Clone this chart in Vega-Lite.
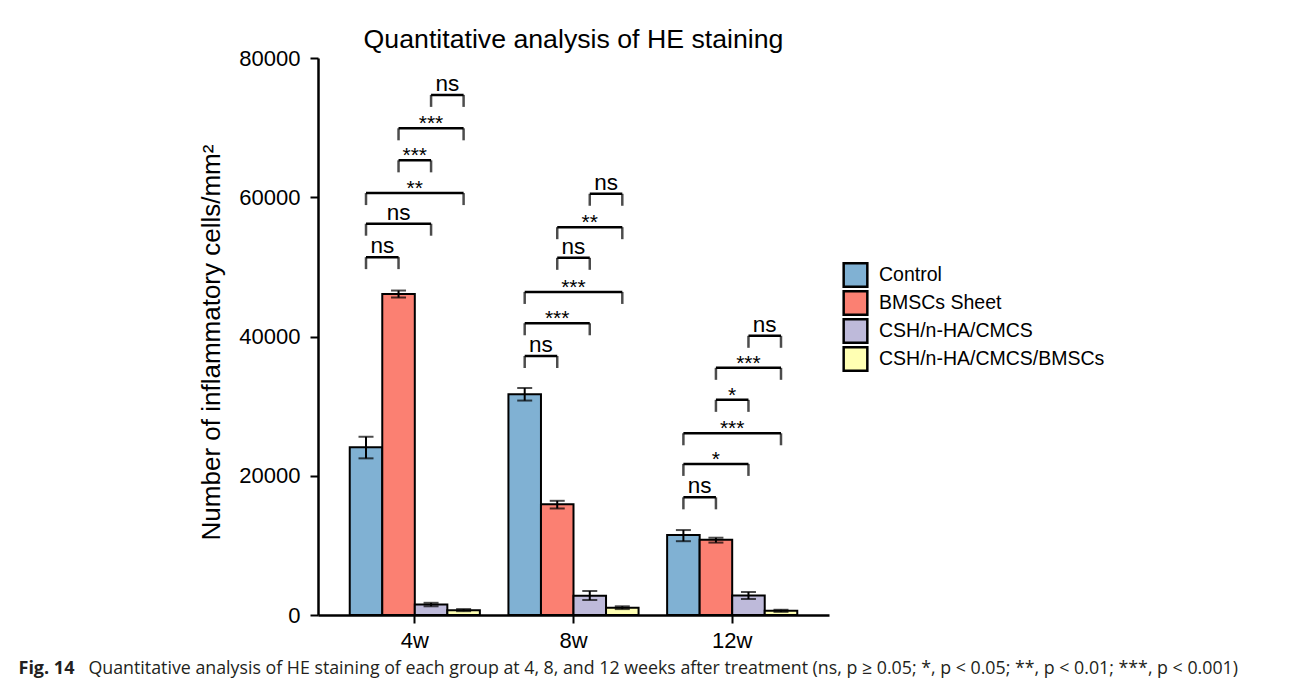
{
  "$schema": "https://vega.github.io/schema/vega-lite/v6.json",
  "autosize": {"type": "none"},
  "padding": {"left": 318, "top": 58, "right": 461, "bottom": 74},
  "width": 511,
  "height": 557,
  "background": "white",
  "title": {"text": "Quantitative analysis of HE staining", "font": "Liberation Sans", "fontSize": 26.7, "fontWeight": "normal", "color": "black", "anchor": "middle", "baseline": "alphabetic", "offset": -28},
  "config": {
    "view": {"stroke": null},
    "font": "Liberation Sans",
    "axis": {"grid": false}
  },
  "datasets": {
    "bars": [
      {"week": "4w", "group": "Control", "mean": 24100, "lo": 22500, "hi": 25600},
      {"week": "4w", "group": "BMSCs Sheet", "mean": 46100, "lo": 45600, "hi": 46600},
      {"week": "4w", "group": "CSH/n-HA/CMCS", "mean": 1500, "lo": 1250, "hi": 1750},
      {"week": "4w", "group": "CSH/n-HA/CMCS/BMSCs", "mean": 700, "lo": 550, "hi": 850},
      {"week": "8w", "group": "Control", "mean": 31700, "lo": 30800, "hi": 32600},
      {"week": "8w", "group": "BMSCs Sheet", "mean": 15900, "lo": 15300, "hi": 16400},
      {"week": "8w", "group": "CSH/n-HA/CMCS", "mean": 2750, "lo": 2150, "hi": 3450},
      {"week": "8w", "group": "CSH/n-HA/CMCS/BMSCs", "mean": 1050, "lo": 850, "hi": 1250},
      {"week": "12w", "group": "Control", "mean": 11500, "lo": 10600, "hi": 12200},
      {"week": "12w", "group": "BMSCs Sheet", "mean": 10800, "lo": 10400, "hi": 11100},
      {"week": "12w", "group": "CSH/n-HA/CMCS", "mean": 2800, "lo": 2300, "hi": 3300},
      {"week": "12w", "group": "CSH/n-HA/CMCS/BMSCs", "mean": 600, "lo": 450, "hi": 750}
    ],
    "brackets": [
      {"week": "4w", "a": "Control", "b": "BMSCs Sheet", "y": 51400, "label": "ns"},
      {"week": "4w", "a": "Control", "b": "CSH/n-HA/CMCS", "y": 56200, "label": "ns"},
      {"week": "4w", "a": "Control", "b": "CSH/n-HA/CMCS/BMSCs", "y": 60600, "label": "**"},
      {"week": "4w", "a": "BMSCs Sheet", "b": "CSH/n-HA/CMCS", "y": 65300, "label": "***"},
      {"week": "4w", "a": "BMSCs Sheet", "b": "CSH/n-HA/CMCS/BMSCs", "y": 69900, "label": "***"},
      {"week": "4w", "a": "CSH/n-HA/CMCS", "b": "CSH/n-HA/CMCS/BMSCs", "y": 74700, "label": "ns"},
      {"week": "8w", "a": "Control", "b": "BMSCs Sheet", "y": 37200, "label": "ns"},
      {"week": "8w", "a": "Control", "b": "CSH/n-HA/CMCS", "y": 41900, "label": "***"},
      {"week": "8w", "a": "Control", "b": "CSH/n-HA/CMCS/BMSCs", "y": 46400, "label": "***"},
      {"week": "8w", "a": "BMSCs Sheet", "b": "CSH/n-HA/CMCS", "y": 51300, "label": "ns"},
      {"week": "8w", "a": "BMSCs Sheet", "b": "CSH/n-HA/CMCS/BMSCs", "y": 55700, "label": "**"},
      {"week": "8w", "a": "CSH/n-HA/CMCS", "b": "CSH/n-HA/CMCS/BMSCs", "y": 60500, "label": "ns"},
      {"week": "12w", "a": "Control", "b": "BMSCs Sheet", "y": 16900, "label": "ns"},
      {"week": "12w", "a": "Control", "b": "CSH/n-HA/CMCS", "y": 21700, "label": "*"},
      {"week": "12w", "a": "Control", "b": "CSH/n-HA/CMCS/BMSCs", "y": 26100, "label": "***"},
      {"week": "12w", "a": "BMSCs Sheet", "b": "CSH/n-HA/CMCS", "y": 30900, "label": "*"},
      {"week": "12w", "a": "BMSCs Sheet", "b": "CSH/n-HA/CMCS/BMSCs", "y": 35500, "label": "***"},
      {"week": "12w", "a": "CSH/n-HA/CMCS", "b": "CSH/n-HA/CMCS/BMSCs", "y": 40100, "label": "ns"}
    ]
  },
  "resolve": {"axis": {"x": "independent"}},
  "layer": [
    {
      "data": {"name": "bars"},
      "mark": {"type": "bar", "stroke": "black", "strokeWidth": 2},
      "encoding": {
        "x": {"field": "week", "type": "nominal", "sort": ["4w", "8w", "12w"],
              "scale": {"paddingInner": 0.18, "paddingOuter": 0.2},
              "axis": {"orient": "bottom", "title": null, "labelAngle": 0, "labelFontSize": 22, "labelColor": "black", "labelPadding": 7, "tickSize": 8, "tickWidth": 2, "tickColor": "black", "domainColor": "black", "domainWidth": 2.5}},
        "xOffset": {"field": "group", "type": "nominal", "scale": {"domain": ["Control", "BMSCs Sheet", "CSH/n-HA/CMCS", "CSH/n-HA/CMCS/BMSCs"], "paddingInner": 0, "paddingOuter": 0}},
        "y": {"field": "mean", "type": "quantitative", "scale": {"domain": [0, 80000]},
              "axis": {"title": "Number of inflammatory cells/mm²", "titleFontSize": 26, "titleFontWeight": "normal", "titleColor": "black", "titlePadding": 14, "titleY": 284, "values": [0, 20000, 40000, 60000, 80000], "format": "d", "labelFontSize": 22, "labelColor": "black", "labelPadding": 10, "tickSize": 8, "tickWidth": 2, "tickColor": "black", "domainColor": "black", "domainWidth": 2.5}},
        "color": {"field": "group", "type": "nominal",
                  "scale": {"domain": ["Control", "BMSCs Sheet", "CSH/n-HA/CMCS", "CSH/n-HA/CMCS/BMSCs"], "range": ["#80b1d3", "#fb8072", "#bebada", "#ffffb3"]},
                  "legend": {"title": null, "orient": "none", "legendX": 524, "legendY": 204, "padding": 0, "symbolType": "square", "symbolSize": 560, "symbolStrokeColor": "black", "symbolStrokeWidth": 2.5, "symbolOpacity": 1, "labelFontSize": 19.5, "labelColor": "black", "labelOffset": 10, "labelLimit": 400, "clipHeight": 26, "rowPadding": 2}}
      }
    },
    {
      "data": {"name": "bars"},
      "mark": {"type": "rule", "color": "black", "strokeWidth": 2},
      "encoding": {
        "x": {"field": "week", "type": "nominal", "sort": ["4w", "8w", "12w"],
              "axis": {"orient": "bottom", "title": "Fig. 14", "labels": false, "ticks": false, "domain": false, "titleFont": "Open Sans", "titleFontSize": 18, "titleFontWeight": "bold", "titleColor": "#231f20", "titleX": -300, "titleY": 53, "titleAlign": "left", "titleAnchor": null, "titleBaseline": "middle"}},
        "xOffset": {"field": "group", "type": "nominal"},
        "y": {"field": "lo", "type": "quantitative"},
        "y2": {"field": "hi"}
      }
    },
    {
      "data": {"name": "bars"},
      "transform": [{"fold": ["lo", "hi"], "as": ["end", "v"]}],
      "mark": {"type": "tick", "color": "black", "orient": "horizontal", "size": 15, "thickness": 2},
      "encoding": {
        "x": {"field": "week", "type": "nominal", "sort": ["4w", "8w", "12w"],
              "axis": {"orient": "bottom", "title": "Quantitative analysis of HE staining of each group at 4, 8, and 12 weeks after treatment (ns, p ≥ 0.05; *, p < 0.05; **, p < 0.01; ***, p < 0.001)", "labels": false, "ticks": false, "domain": false, "titleFont": "Open Sans", "titleFontSize": 17.8, "titleFontWeight": "normal", "titleColor": "#231f20", "titleX": -230, "titleY": 53, "titleAlign": "left", "titleAnchor": null, "titleBaseline": "middle"}},
        "xOffset": {"field": "group", "type": "nominal"},
        "y": {"field": "v", "type": "quantitative"}
      }
    },
    {
      "data": {"name": "brackets"},
      "transform": [{"fold": ["a", "b"], "as": ["end", "grp"]}],
      "mark": {"type": "line", "color": "black", "strokeWidth": 2.5},
      "encoding": {
        "x": {"field": "week", "type": "nominal", "sort": ["4w", "8w", "12w"], "axis": null},
        "xOffset": {"field": "grp", "type": "nominal"},
        "y": {"field": "y", "type": "quantitative"},
        "detail": [{"field": "week"}, {"field": "a"}, {"field": "b"}]
      }
    },
    {
      "data": {"name": "brackets"},
      "transform": [{"fold": ["a", "b"], "as": ["end", "grp"]}],
      "mark": {"type": "tick", "color": "black", "orient": "vertical", "size": 12, "thickness": 2.5, "yOffset": 6},
      "encoding": {
        "x": {"field": "week", "type": "nominal", "sort": ["4w", "8w", "12w"], "axis": null},
        "xOffset": {"field": "grp", "type": "nominal"},
        "y": {"field": "y", "type": "quantitative"}
      }
    },
    {
      "data": {"name": "brackets"},
      "transform": [{"filter": "datum.label == 'ns' && indexof(['Control','BMSCs Sheet','CSH/n-HA/CMCS','CSH/n-HA/CMCS/BMSCs'], datum.b) - indexof(['Control','BMSCs Sheet','CSH/n-HA/CMCS','CSH/n-HA/CMCS/BMSCs'], datum.a) == 1"}],
      "mark": {"type": "text", "fontSize": 22.5, "color": "black", "align": "center", "baseline": "alphabetic", "dx": 16.25, "dy": -4},
      "encoding": {
        "x": {"field": "week", "type": "nominal", "sort": ["4w", "8w", "12w"], "axis": null},
        "xOffset": {"field": "a", "type": "nominal"},
        "y": {"field": "y", "type": "quantitative"},
        "text": {"field": "label"}
      }
    },
    {
      "data": {"name": "brackets"},
      "transform": [{"filter": "datum.label == 'ns' && indexof(['Control','BMSCs Sheet','CSH/n-HA/CMCS','CSH/n-HA/CMCS/BMSCs'], datum.b) - indexof(['Control','BMSCs Sheet','CSH/n-HA/CMCS','CSH/n-HA/CMCS/BMSCs'], datum.a) == 2"}],
      "mark": {"type": "text", "fontSize": 22.5, "color": "black", "align": "center", "baseline": "alphabetic", "dx": 32.5, "dy": -4},
      "encoding": {
        "x": {"field": "week", "type": "nominal", "sort": ["4w", "8w", "12w"], "axis": null},
        "xOffset": {"field": "a", "type": "nominal"},
        "y": {"field": "y", "type": "quantitative"},
        "text": {"field": "label"}
      }
    },
    {
      "data": {"name": "brackets"},
      "transform": [{"filter": "datum.label == 'ns' && indexof(['Control','BMSCs Sheet','CSH/n-HA/CMCS','CSH/n-HA/CMCS/BMSCs'], datum.b) - indexof(['Control','BMSCs Sheet','CSH/n-HA/CMCS','CSH/n-HA/CMCS/BMSCs'], datum.a) == 3"}],
      "mark": {"type": "text", "fontSize": 22.5, "color": "black", "align": "center", "baseline": "alphabetic", "dx": 48.75, "dy": -4},
      "encoding": {
        "x": {"field": "week", "type": "nominal", "sort": ["4w", "8w", "12w"], "axis": null},
        "xOffset": {"field": "a", "type": "nominal"},
        "y": {"field": "y", "type": "quantitative"},
        "text": {"field": "label"}
      }
    },
    {
      "data": {"name": "brackets"},
      "transform": [{"filter": "datum.label != 'ns' && indexof(['Control','BMSCs Sheet','CSH/n-HA/CMCS','CSH/n-HA/CMCS/BMSCs'], datum.b) - indexof(['Control','BMSCs Sheet','CSH/n-HA/CMCS','CSH/n-HA/CMCS/BMSCs'], datum.a) == 1"}],
      "mark": {"type": "text", "fontSize": 21, "color": "black", "align": "center", "baseline": "alphabetic", "dx": 16.25, "dy": 2},
      "encoding": {
        "x": {"field": "week", "type": "nominal", "sort": ["4w", "8w", "12w"], "axis": null},
        "xOffset": {"field": "a", "type": "nominal"},
        "y": {"field": "y", "type": "quantitative"},
        "text": {"field": "label"}
      }
    },
    {
      "data": {"name": "brackets"},
      "transform": [{"filter": "datum.label != 'ns' && indexof(['Control','BMSCs Sheet','CSH/n-HA/CMCS','CSH/n-HA/CMCS/BMSCs'], datum.b) - indexof(['Control','BMSCs Sheet','CSH/n-HA/CMCS','CSH/n-HA/CMCS/BMSCs'], datum.a) == 2"}],
      "mark": {"type": "text", "fontSize": 21, "color": "black", "align": "center", "baseline": "alphabetic", "dx": 32.5, "dy": 2},
      "encoding": {
        "x": {"field": "week", "type": "nominal", "sort": ["4w", "8w", "12w"], "axis": null},
        "xOffset": {"field": "a", "type": "nominal"},
        "y": {"field": "y", "type": "quantitative"},
        "text": {"field": "label"}
      }
    },
    {
      "data": {"name": "brackets"},
      "transform": [{"filter": "datum.label != 'ns' && indexof(['Control','BMSCs Sheet','CSH/n-HA/CMCS','CSH/n-HA/CMCS/BMSCs'], datum.b) - indexof(['Control','BMSCs Sheet','CSH/n-HA/CMCS','CSH/n-HA/CMCS/BMSCs'], datum.a) == 3"}],
      "mark": {"type": "text", "fontSize": 21, "color": "black", "align": "center", "baseline": "alphabetic", "dx": 48.75, "dy": 2},
      "encoding": {
        "x": {"field": "week", "type": "nominal", "sort": ["4w", "8w", "12w"], "axis": null},
        "xOffset": {"field": "a", "type": "nominal"},
        "y": {"field": "y", "type": "quantitative"},
        "text": {"field": "label"}
      }
    }
  ]
}
